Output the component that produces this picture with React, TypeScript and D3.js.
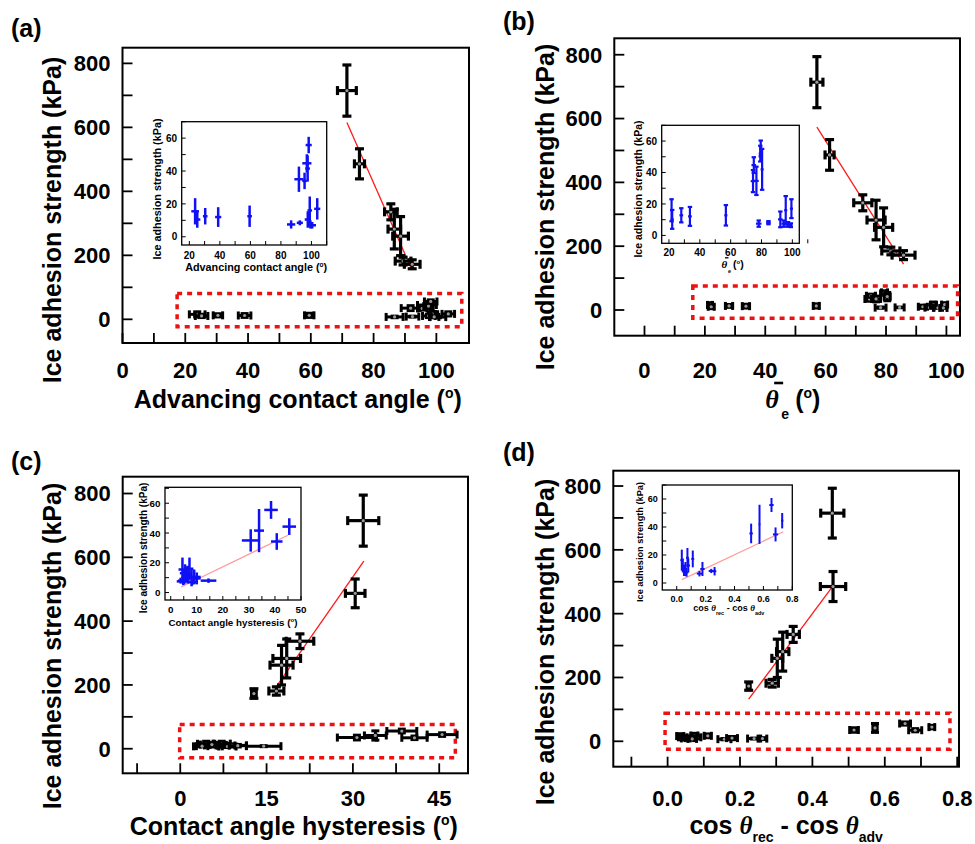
import React from "react";
import * as d3 from "d3";

// ---------------- data ----------------
// Panel (a): advancing contact angle
const A_X = [71.5, 75.5, 85.5, 86.6, 88.6, 89.4, 92.3];
const A_Y = [715, 486, 336, 282, 260, 182, 172];
const A_XERR = [3, 1.6, 2, 2, 2.5, 2.5, 2.5];
const A_YERR = [80, 47, 25, 62, 61, 12, 14];
const A_LOW_X = [23.8, 25.2, 30.4, 38.9, 59.5, 86.7, 92.4, 91.8, 95.5, 97, 97.5, 98.2, 98.9, 97.6, 100.5, 99.3, 103.8];
const A_LOW_Y = [15.5, 10.5, 12.5, 12, 12.5, 7.5, 8.5, 35, 34, 44.7, 41.5, 55.8, 16, 10.5, 7, 7.5, 17];
const A_LOW_XERR = [2.5, 2, 1.5, 2, 1.5, 2.7, 2, 3, 1.5, 3, 1.5, 2, 1.5, 2, 2.5, 1.5, 2];
const A_LOW_YERR = [8, 5, 5, 6, 6.5, 2.5, 1.5, 7.7, 5, 5.5, 8, 5, 8.5, 5, 2, 2.5, 6.5];
const A_FIT_X = [71.5, 92.2];
const A_FIT_Y = [615, 155];
const A_BOX_X = [17.4, 108.1];
const A_BOX_Y = [-23, 81];

// Panel (b): average contact angle
const B_X = [57.1, 61.3, 72.3, 76.7, 79.2, 81.6, 85.8];
const B_Y = [714, 486, 336, 282, 259, 185, 172];
const B_XERR = [2, 1.5, 3, 3, 3, 3, 3.8];
const B_YERR = [80, 48, 25, 62, 61, 12, 14];
const B_LOW_X = [21.7, 22.1, 28, 33.6, 56.9, 74.5, 75, 76.7, 78.2, 79.2, 79.5, 80.4, 84.5, 92.2, 94.4, 95.7, 97.2, 99.4, 99];
const B_LOW_Y = [16, 10.2, 12.8, 12.1, 12.8, 34.5, 44.7, 34.7, 7.5, 52, 55.3, 42, 8.1, 10.2, 7.5, 16, 7, 17, 6.5];
const B_LOW_XERR = [0.8, 1, 1.2, 1.2, 1, 1.5, 1.5, 1.5, 1.8, 1, 1, 1, 1.5, 1.5, 1.5, 1, 1.5, 1, 1.2];
const B_LOW_YERR = [7, 6, 4.5, 6, 6.5, 7, 5, 9, 2, 5, 5, 13, 1, 5, 2, 9, 1.5, 6, 1.2];
const B_FIT_X = [57.1, 85.8];
const B_FIT_Y = [573, 144];
const B_BOX_X = [16, 103.7];
const B_BOX_Y = [-26, 75];

// Panel (c): contact angle hysteresis
const C_X = [31.8, 30.4, 20.8, 18.5, 17.6, 16.7, 12.8];
const C_Y = [715, 487, 337, 283, 262, 181, 173];
const C_XERR = [2.7, 1.7, 2.4, 2.4, 2, 1.3, 0.4];
const C_YERR = [80, 45, 23, 61, 62, 13, 15];
const C_LOW_X = [4.5, 5.2, 6, 4.8, 7.2, 6.5, 8, 9, 8.2, 14.5, 5.5, 3.8, 10, 30.7, 33.9, 38.5, 40.7, 45.5];
const C_LOW_Y = [15.5, 10.5, 12.5, 7.5, 16, 12, 10.2, 10.5, 7, 8, 13, 8, 9.5, 35, 41.6, 55.5, 34.3, 44.3];
const C_LOW_XERR = [1.5, 1, 1, 2.5, 1.5, 1.5, 1.5, 2.5, 1.5, 3, 2, 1, 1.5, 3.4, 1.9, 2.6, 2.2, 2.6];
const C_LOW_YERR = [8, 5, 5, 2.5, 7.5, 6, 6, 5, 2, 1.5, 6, 2, 4, 7.5, 14.5, 6, 5.6, 5.6];
const C_FIT_X = [16.6, 31.9];
const C_FIT_Y = [192, 588];
const C_IN_FIT_X = [4, 45];
const C_IN_FIT_Y = [3.7, 38.5];
const C_BOX_X = [-0.1, 47.8];
const C_BOX_Y = [-28, 76];

// Panel (d): cos(rec) - cos(adv)
const D_X = [0.455, 0.457, 0.347, 0.318, 0.303, 0.289, 0.224];
const D_Y = [715, 485, 335, 281, 260, 182, 173];
const D_XERR = [0.032, 0.035, 0.017, 0.017, 0.015, 0.017, 0.004];
const D_YERR = [78, 47, 25, 61, 60, 12, 13];
const D_LOW_X = [0.035, 0.042, 0.05, 0.06, 0.074, 0.08, 0.068, 0.111, 0.157, 0.178, 0.239, 0.262, 0.515, 0.573, 0.656, 0.684, 0.73];
const D_LOW_Y = [16.3, 12.5, 9, 10, 18, 12.5, 7.5, 17.2, 6.7, 10, 8.6, 8.4, 35.4, 41.9, 55.7, 34.7, 44.5];
const D_LOW_XERR = [0.01, 0.012, 0.012, 0.012, 0.01, 0.012, 0.012, 0.01, 0.018, 0.015, 0.018, 0.012, 0.012, 0.006, 0.015, 0.018, 0.008];
const D_LOW_YERR = [7.5, 5, 4, 5, 7, 5, 3, 6, 2, 5, 1.5, 3, 7, 14, 5, 5, 5.5];
const D_FIT_X = [0.224, 0.457];
const D_FIT_Y = [132, 487];
const D_IN_FIT_X = [0.035, 0.737];
const D_IN_FIT_Y = [2.4, 36.6];
const D_BOX_X = [-0.007, 0.78];
const D_BOX_Y = [-25, 88];

// tick values
const Y_MAJOR = [0, 200, 400, 600, 800];
const Y_MINOR = d3.range(0, 801, 100);
const INSET_Y_MAJOR = [0, 20, 40, 60];
const INSET_Y_MINOR = d3.range(0, 71, 10);
const AB_X_MAJOR = [0, 20, 40, 60, 80, 100];
const AB_X_MINOR = d3.range(0, 101, 10);
const AB_IN_X_MAJOR = [20, 40, 60, 80, 100];
const AB_IN_X_MINOR = d3.range(20, 111, 10);
const C_X_MAJOR = [0, 15, 30, 45];
const C_X_MINOR = d3.range(-7.5, 46, 7.5);
const C_IN_X_MAJOR = [0, 10, 20, 30, 40, 50];
const C_IN_X_MINOR = d3.range(0, 51, 5);
const D_X_MAJOR = [0, 0.2, 0.4, 0.6, 0.8];
const D_X_MINOR = d3.range(-1, 9).map((v) => v / 10);
const D_IN_X_MAJOR = [0, 0.2, 0.4, 0.6, 0.8];
const D_IN_X_MINOR = d3.range(0, 9).map((v) => v / 10);

// ---------------- helpers ----------------
const FONT = "'Liberation Sans', Arial, Helvetica, sans-serif";
const SERIF = "'Liberation Serif', 'Times New Roman', serif";
const BLUE = "#1010f5";

type Pt = { x: number; y: number; xe: number; ye: number };
const zip = (x: number[], y: number[], xe: number[], ye: number[]): Pt[] =>
  x.map((v, i) => ({ x: v, y: y[i], xe: xe[i], ye: ye[i] }));

function ErrPts({ pts, sx, sy, color, sw, capW, dot }: any) {
  return (
    <g stroke={color} strokeWidth={sw} fill="none">
      {pts.map((p: Pt, i: number) => {
        const cx = sx(p.x);
        const cy = sy(p.y);
        const x0 = sx(p.x - p.xe);
        const x1 = sx(p.x + p.xe);
        const y0 = sy(p.y + p.ye);
        const y1 = sy(p.y - p.ye);
        return (
          <g key={i}>
            <line x1={cx} x2={cx} y1={y0} y2={y1} />
            <line x1={x0} x2={x1} y1={cy} y2={cy} />
            {capW > 0 && (
              <>
                <line x1={cx - capW} x2={cx + capW} y1={y0} y2={y0} />
                <line x1={cx - capW} x2={cx + capW} y1={y1} y2={y1} />
              </>
            )}
            {capW > 0 && dot && (
              <>
                <line x1={x0} x2={x0} y1={cy - capW} y2={cy + capW} />
                <line x1={x1} x2={x1} y1={cy - capW} y2={cy + capW} />
              </>
            )}
            {dot && <circle cx={cx} cy={cy} r={1.6} fill="#9a9a9a" stroke="none" />}
          </g>
        );
      })}
    </g>
  );
}

function Ticks({ f, sx, sy, xMinor, yMinor, len, sw }: any) {
  return (
    <g stroke="#000" strokeWidth={sw}>
      {xMinor.map((v: number, i: number) => (
        <line key={"x" + i} x1={sx(v)} x2={sx(v)} y1={f.b} y2={f.b - len} />
      ))}
      {yMinor.map((v: number, i: number) => (
        <line key={"y" + i} x1={f.l} x2={f.l + len} y1={sy(v)} y2={sy(v)} />
      ))}
    </g>
  );
}

function Inset({ cfg }: any) {
  const f = cfg.frame;
  const sx = d3.scaleLinear().domain(cfg.xDom).range([f.l, f.r]);
  const sy = d3.scaleLinear().domain(cfg.yDom).range([f.b, f.t]);
  const fmt = cfg.xFmt || ((v: number) => String(v));
  return (
    <g>
      <rect x={f.l} y={f.t} width={f.r - f.l} height={f.b - f.t} fill="#fff" stroke="#000" strokeWidth={1.3} />
      <Ticks f={f} sx={sx} sy={sy} xMinor={cfg.xMinor} yMinor={INSET_Y_MINOR} len={4} sw={1} />
      <g fontFamily={FONT} fontWeight="bold" fontSize={cfg.tickFs} fill="#000">
        {cfg.xMajor.map((v: number) => (
          <text key={v} x={sx(v)} y={f.b + cfg.xLabOff} textAnchor="middle">
            {fmt(v)}
          </text>
        ))}
        {INSET_Y_MAJOR.map((v) => (
          <text key={v} x={f.l - 4.5} y={sy(v)} dy="0.36em" textAnchor="end">
            {v}
          </text>
        ))}
        <text
          transform={`translate(${f.l - cfg.yTitleOff},${cfg.yTitleCy}) rotate(-90)`}
          textAnchor="middle"
          fontSize={cfg.titleFs}
        >
          Ice adhesion strength (kPa)
        </text>
      </g>
      {cfg.fit && (
        <line
          x1={sx(cfg.fit.x[0])}
          x2={sx(cfg.fit.x[1])}
          y1={sy(cfg.fit.y[0])}
          y2={sy(cfg.fit.y[1])}
          stroke="#ff9a9a"
          strokeWidth={1.2}
        />
      )}
      <ErrPts pts={cfg.pts} sx={sx} sy={sy} color={BLUE} sw={cfg.sw} capW={cfg.capW} dot={false} />
      {cfg.xTitle(sx, sy, f)}
    </g>
  );
}

function Panel({ cfg }: any) {
  const f = cfg.frame;
  const sx = d3.scaleLinear().domain(cfg.xDom).range([f.l, f.r]);
  const sy = d3.scaleLinear().domain(cfg.yDom).range([f.b, f.t]);
  const fmt = cfg.xFmt || ((v: number) => String(v));
  return (
    <g>
      <Ticks f={f} sx={sx} sy={sy} xMinor={cfg.xMinor} yMinor={Y_MINOR} len={10} sw={1.8} />
      <rect x={f.l} y={f.t} width={f.r - f.l} height={f.b - f.t} fill="none" stroke="#000" strokeWidth={2} />
      <g fontFamily={FONT} fontWeight="bold" fontSize={22} fill="#000">
        {cfg.xMajor.map((v: number) => (
          <text key={v} x={sx(v)} y={cfg.xLabY} textAnchor="middle">
            {fmt(v)}
          </text>
        ))}
        {Y_MAJOR.map((v) => (
          <text key={v} x={f.l - 12} y={sy(v)} dy="0.36em" textAnchor="end">
            {v}
          </text>
        ))}
        <text
          transform={`translate(${cfg.yTitleX},${cfg.yTitleCy}) rotate(-90)`}
          textAnchor="middle"
          fontSize={25}
        >
          Ice adhesion strength (kPa)
        </text>
        <text x={cfg.letter.x} y={cfg.letter.y} fontSize={25}>
          {cfg.letter.t}
        </text>
      </g>
      {cfg.xTitle((f.l + f.r) / 2)}
      <rect
        x={sx(cfg.box.x[0])}
        y={sy(cfg.box.y[1])}
        width={sx(cfg.box.x[1]) - sx(cfg.box.x[0])}
        height={sy(cfg.box.y[0]) - sy(cfg.box.y[1])}
        fill="none"
        stroke="#ee1111"
        strokeWidth={3.5}
        strokeDasharray="5 5"
      />
      <ErrPts pts={cfg.low} sx={sx} sy={sy} color="#000" sw={3} capW={4} dot={true} />
      <line
        x1={sx(cfg.fit.x[0])}
        x2={sx(cfg.fit.x[1])}
        y1={sy(cfg.fit.y[0])}
        y2={sy(cfg.fit.y[1])}
        stroke="#ff1a1a"
        strokeWidth={1.3}
      />
      <ErrPts pts={cfg.main} sx={sx} sy={sy} color="#000" sw={3.2} capW={4.5} dot={true} />
      <Inset cfg={cfg.inset} />
    </g>
  );
}

const degTitle = (label: string, fs: number, sup: number, lift: number) => (
  <>
    {label}(<tspan fontSize={sup} dy={-lift}>o</tspan>
    <tspan dy={lift}>)</tspan>
  </>
);

const PANELS = [
  {
    frame: { l: 122.5, t: 47.7, r: 469, b: 343 },
    xDom: [0, 110.4],
    yDom: [-74, 849],
    xMajor: AB_X_MAJOR,
    xMinor: AB_X_MINOR,
    xLabY: 378,
    yTitleX: 61,
    yTitleCy: 220,
    letter: { t: "(a)", x: 11, y: 37 },
    main: zip(A_X, A_Y, A_XERR, A_YERR),
    low: zip(A_LOW_X, A_LOW_Y, A_LOW_XERR, A_LOW_YERR),
    fit: { x: A_FIT_X, y: A_FIT_Y },
    box: { x: A_BOX_X, y: A_BOX_Y },
    xTitle: (cx: number) => (
      <text x={cx + 2} y={408} textAnchor="middle" fontFamily={FONT} fontWeight="bold" fontSize={25}>
        {degTitle("Advancing contact angle ", 25, 14, 10)}
      </text>
    ),
    inset: {
      frame: { l: 181.7, t: 121.7, r: 326.7, b: 245 },
      xDom: [15, 110],
      yDom: [-5, 70],
      xMajor: AB_IN_X_MAJOR,
      xMinor: AB_IN_X_MINOR,
      tickFs: 10,
      titleFs: 10.8,
      xLabOff: 14,
      yTitleOff: 20.5,
      yTitleCy: 189,
      pts: zip(A_LOW_X, A_LOW_Y, A_LOW_XERR, A_LOW_YERR),
      sw: 2.5,
      capW: 0,
      xTitle: (sx: any, sy: any, f: any) => (
        <text x={(f.l + f.r) / 2 + 2} y={f.b + 25.5} textAnchor="middle" fontFamily={FONT} fontWeight="bold" fontSize={10.8}>
          {degTitle("Advancing contact angle ", 10.8, 6.5, 4)}
        </text>
      ),
    },
  },
  {
    frame: { l: 614.3, t: 38.3, r: 960, b: 335.7 },
    xDom: [-10, 104.5],
    yDom: [-80.5, 851.5],
    xMajor: AB_X_MAJOR,
    xMinor: AB_X_MINOR,
    xLabY: 378,
    yTitleX: 554,
    yTitleCy: 207,
    letter: { t: "(b)", x: 503, y: 30 },
    main: zip(B_X, B_Y, B_XERR, B_YERR),
    low: zip(B_LOW_X, B_LOW_Y, B_LOW_XERR, B_LOW_YERR),
    fit: { x: B_FIT_X, y: B_FIT_Y },
    box: { x: B_BOX_X, y: B_BOX_Y },
    xTitle: (cx: number) => (
      <g fontWeight="bold" fill="#000">
        <text x={cx - 22} y={408} fontFamily={SERIF} fontStyle="italic" fontSize={26}>
          θ
        </text>
        <line x1={cx - 13} x2={cx - 4} y1={383} y2={383} stroke="#000" strokeWidth={2.6} />
        <text x={cx - 6} y={419} fontFamily={FONT} fontSize={14}>
          e
        </text>
        <text x={cx + 8} y={408} fontFamily={FONT} fontSize={25}>
          {degTitle("", 25, 14, 10)}
        </text>
      </g>
    ),
    inset: {
      frame: { l: 661.7, t: 125.3, r: 799.3, b: 243.3 },
      xDom: [15.3, 104.5],
      yDom: [-5, 70],
      xMajor: AB_IN_X_MAJOR,
      xMinor: AB_IN_X_MINOR,
      tickFs: 10,
      titleFs: 10.5,
      xLabOff: 12.5,
      yTitleOff: 19.5,
      yTitleCy: 189,
      pts: zip(B_LOW_X, B_LOW_Y, B_LOW_XERR, B_LOW_YERR),
      sw: 2.2,
      capW: 2.2,
      xTitle: (sx: any, sy: any, f: any) => {
        const cx = (f.l + f.r) / 2;
        return (
          <g fontWeight="bold" fill="#000">
            <text x={cx - 9} y={f.b + 25} fontFamily={SERIF} fontStyle="italic" fontSize={11}>
              θ
            </text>
            <line x1={cx - 5.5} x2={cx - 2} y1={f.b + 14.5} y2={f.b + 14.5} stroke="#000" strokeWidth={1.3} />
            <text x={cx - 2.5} y={f.b + 30} fontFamily={FONT} fontSize={5.5}>
              e
            </text>
            <text x={cx + 2.5} y={f.b + 25} fontFamily={FONT} fontSize={10.5}>
              {degTitle("", 10.5, 6, 4)}
            </text>
          </g>
        );
      },
    },
  },
  {
    frame: { l: 122.7, t: 476.7, r: 468, b: 773.3 },
    xDom: [-10, 50],
    yDom: [-77, 852.7],
    xMajor: C_X_MAJOR,
    xMinor: C_X_MINOR,
    xLabY: 806,
    yTitleX: 61,
    yTitleCy: 646,
    letter: { t: "(c)", x: 11, y: 470 },
    main: zip(C_X, C_Y, C_XERR, C_YERR),
    low: zip(C_LOW_X, C_LOW_Y, C_LOW_XERR, C_LOW_YERR),
    fit: { x: C_FIT_X, y: C_FIT_Y },
    box: { x: C_BOX_X, y: C_BOX_Y },
    xTitle: (cx: number) => (
      <text x={cx - 1.5} y={835} textAnchor="middle" fontFamily={FONT} fontWeight="bold" fontSize={25}>
        {degTitle("Contact angle hysteresis ", 25, 14, 10)}
      </text>
    ),
    inset: {
      frame: { l: 165, t: 487.3, r: 301, b: 600 },
      xDom: [-2.2, 50],
      yDom: [-5, 70.7],
      xMajor: C_IN_X_MAJOR,
      xMinor: C_IN_X_MINOR,
      tickFs: 9.8,
      titleFs: 10,
      xLabOff: 13,
      yTitleOff: 18,
      yTitleCy: 548,
      pts: zip(C_LOW_X, C_LOW_Y, C_LOW_XERR, C_LOW_YERR),
      sw: 2.5,
      capW: 0,
      fit: { x: C_IN_FIT_X, y: C_IN_FIT_Y },
      xTitle: (sx: any, sy: any, f: any) => (
        <text x={(f.l + f.r) / 2} y={f.b + 25.5} textAnchor="middle" fontFamily={FONT} fontWeight="bold" fontSize={9.8}>
          {degTitle("Contact angle hysteresis ", 9.8, 6, 4)}
        </text>
      ),
    },
  },
  {
    frame: { l: 613.3, t: 470.7, r: 959, b: 766.7 },
    xDom: [-0.15, 0.805],
    yDom: [-79.6, 848],
    xMajor: D_X_MAJOR,
    xMinor: D_X_MINOR,
    xFmt: d3.format(".1f"),
    xLabY: 806,
    yTitleX: 554,
    yTitleCy: 642,
    letter: { t: "(d)", x: 503, y: 460.5 },
    main: zip(D_X, D_Y, D_XERR, D_YERR),
    low: zip(D_LOW_X, D_LOW_Y, D_LOW_XERR, D_LOW_YERR),
    fit: { x: D_FIT_X, y: D_FIT_Y },
    box: { x: D_BOX_X, y: D_BOX_Y },
    xTitle: (cx: number) => (
      <text x={cx} y={834} textAnchor="middle" fontFamily={FONT} fontWeight="bold" fontSize={25}>
        cos{" "}
        <tspan fontFamily={SERIF} fontStyle="italic">
          θ
        </tspan>
        <tspan fontSize={14} dy={8}>
          rec
        </tspan>
        <tspan dy={-8}> - cos </tspan>
        <tspan fontFamily={SERIF} fontStyle="italic">
          θ
        </tspan>
        <tspan fontSize={14} dy={8}>
          adv
        </tspan>
      </text>
    ),
    inset: {
      frame: { l: 662.3, t: 485, r: 792.3, b: 590 },
      xDom: [-0.1, 0.8],
      yDom: [-5, 70],
      xMajor: D_IN_X_MAJOR,
      xMinor: D_IN_X_MINOR,
      xFmt: d3.format(".1f"),
      tickFs: 9,
      titleFs: 9.2,
      xLabOff: 11.5,
      yTitleOff: 19.3,
      yTitleCy: 542,
      pts: zip(D_LOW_X, D_LOW_Y, D_LOW_XERR, D_LOW_YERR),
      sw: 2,
      capW: 0,
      fit: { x: D_IN_FIT_X, y: D_IN_FIT_Y },
      xTitle: (sx: any, sy: any, f: any) => (
        <text x={(f.l + f.r) / 2 + 1.5} y={f.b + 21} textAnchor="middle" fontFamily={FONT} fontWeight="bold" fontSize={9}>
          cos{" "}
          <tspan fontFamily={SERIF} fontStyle="italic">
            θ
          </tspan>
          <tspan fontSize={5.5} dy={3.5}>
            rec
          </tspan>
          <tspan dy={-3.5}> - cos </tspan>
          <tspan fontFamily={SERIF} fontStyle="italic">
            θ
          </tspan>
          <tspan fontSize={5.5} dy={3.5}>
            adv
          </tspan>
        </text>
      ),
    },
  },
];

export default function App() {
  return (
    <svg
      width={975}
      height={844}
      viewBox="0 0 975 844"
      style={{ position: "absolute", left: 0, top: 0, background: "#fff" }}
    >
      <rect x={0} y={0} width={975} height={844} fill="#fff" />
      {PANELS.map((p, i) => (
        <Panel key={i} cfg={p} />
      ))}
    </svg>
  );
}
